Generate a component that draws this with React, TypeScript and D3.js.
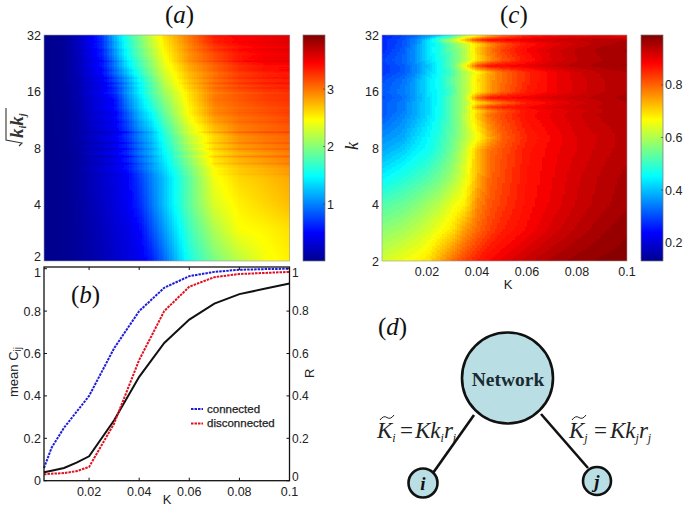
import React, { useEffect, useRef } from "react";
import * as d3 from "d3";

// ---------- data ----------
const gridK = [0.002, 0.01, 0.015, 0.02, 0.025, 0.03, 0.035, 0.04, 0.045, 0.05, 0.06, 0.07, 0.08, 0.09, 0.1];

const rowsA = [32, 23.5, 18.9, 14.4, 12, 9.4, 6.9, 5.5, 4, 2.93, 2];
const valuesA = [
  [0, 0.05, 0.2, 0.42, 0.7, 1.2, 1.63, 1.97, 2.3, 2.6, 3.0, 3.38, 3.47, 3.52, 3.58],
  [0, 0.05, 0.18, 0.38, 0.58, 1.0, 1.46, 1.8, 2.1, 2.42, 2.87, 3.12, 3.35, 3.47, 3.5],
  [0, 0.05, 0.15, 0.33, 0.47, 0.8, 1.15, 1.55, 1.9, 2.25, 2.7, 3.0, 3.2, 3.3, 3.35],
  [0, 0.04, 0.12, 0.28, 0.4, 0.55, 1.0, 1.35, 1.7, 2.0, 2.55, 2.98, 3.1, 3.2, 3.25],
  [0, 0.03, 0.1, 0.25, 0.36, 0.47, 0.82, 1.2, 1.48, 1.85, 2.48, 2.9, 3.05, 3.12, 3.2],
  [0, 0.03, 0.1, 0.22, 0.32, 0.43, 0.68, 1.0, 1.25, 1.62, 2.25, 2.65, 2.92, 3.02, 3.08],
  [0, 0.02, 0.08, 0.2, 0.3, 0.42, 0.6, 0.9, 1.15, 1.42, 2.0, 2.55, 2.75, 2.85, 2.95],
  [0, 0.02, 0.08, 0.17, 0.27, 0.36, 0.47, 0.72, 1.0, 1.25, 1.85, 2.42, 2.62, 2.7, 2.8],
  [0, 0.02, 0.07, 0.15, 0.24, 0.34, 0.45, 0.65, 0.95, 1.25, 1.85, 2.33, 2.52, 2.62, 2.72],
  [0, 0.02, 0.06, 0.13, 0.2, 0.3, 0.38, 0.5, 0.8, 1.1, 1.72, 2.15, 2.45, 2.5, 2.58],
  [0, 0.02, 0.06, 0.11, 0.18, 0.26, 0.34, 0.42, 0.6, 0.9, 1.57, 1.95, 2.2, 2.42, 2.52],
];
const streakK = [29.3, 27.6, 26.6, 25.3, 24.1, 23.2, 21.9, 20.8, 20, 18.9, 17.7, 16.7, 15.7, 14.4, 13.1, 12.3, 11.6, 11, 10.5, 9.7, 9.2, 8.5, 7.9, 7.5, 7.2, 6.6, 6.2, 5.8];
const streakD = [0.05, -0.05, 0.06, -0.04, 0.03, 0.13, -0.05, 0.05, -0.06, 0.11, 0.14, 0.1, -0.08, 0.04, -0.06, 0.05, -0.05, 0.06, -0.03, 0.2, -0.04, 0.15, 0.16, -0.06, 0.16, 0.13, -0.05, 0.05];
const streakShapeK = [0.012, 0.028, 0.045, 0.055, 0.07, 0.1];
const streakShapeV = [0, -1, -0.6, 0.4, 0.8, 0.7];

const rowsC = [32, 31.6, 30.1, 28.7, 26.6, 23.5, 21.9, 20.3, 18.4, 15.9, 14.8, 13.9, 13.2, 12.6, 12, 9.05, 7.8, 5.5, 4, 2.93, 2];
const valuesC = [
  [0.26, 0.29, 0.32, 0.36, 0.4, 0.47, 0.6, 0.68, 0.76, 0.8, 0.85, 0.87, 0.88, 0.89, 0.88],
  [0.26, 0.29, 0.32, 0.37, 0.42, 0.5, 0.62, 0.68, 0.74, 0.8, 0.86, 0.89, 0.9, 0.91, 0.9],
  [0.27, 0.3, 0.35, 0.42, 0.53, 0.62, 0.73, 0.84, 0.885, 0.89, 0.91, 0.925, 0.935, 0.945, 0.95],
  [0.27, 0.3, 0.35, 0.42, 0.48, 0.55, 0.62, 0.69, 0.76, 0.81, 0.87, 0.9, 0.925, 0.945, 0.955],
  [0.27, 0.31, 0.36, 0.43, 0.48, 0.54, 0.6, 0.71, 0.78, 0.83, 0.885, 0.915, 0.94, 0.955, 0.965],
  [0.29, 0.32, 0.36, 0.42, 0.47, 0.53, 0.6, 0.69, 0.76, 0.81, 0.87, 0.91, 0.935, 0.95, 0.96],
  [0.28, 0.31, 0.35, 0.4, 0.46, 0.53, 0.66, 0.82, 0.875, 0.885, 0.9, 0.925, 0.945, 0.955, 0.965],
  [0.28, 0.31, 0.35, 0.41, 0.46, 0.52, 0.6, 0.67, 0.74, 0.79, 0.85, 0.89, 0.92, 0.94, 0.95],
  [0.3, 0.33, 0.37, 0.43, 0.47, 0.53, 0.6, 0.69, 0.75, 0.79, 0.85, 0.89, 0.915, 0.935, 0.95],
  [0.31, 0.34, 0.37, 0.43, 0.46, 0.52, 0.6, 0.68, 0.75, 0.8, 0.86, 0.89, 0.915, 0.935, 0.95],
  [0.3, 0.33, 0.37, 0.42, 0.46, 0.53, 0.6, 0.79, 0.87, 0.88, 0.895, 0.915, 0.93, 0.945, 0.955],
  [0.31, 0.34, 0.38, 0.42, 0.46, 0.53, 0.6, 0.68, 0.74, 0.79, 0.86, 0.89, 0.915, 0.935, 0.95],
  [0.31, 0.34, 0.38, 0.42, 0.47, 0.53, 0.6, 0.76, 0.84, 0.86, 0.885, 0.91, 0.925, 0.94, 0.95],
  [0.31, 0.34, 0.38, 0.42, 0.47, 0.53, 0.6, 0.69, 0.76, 0.81, 0.87, 0.895, 0.915, 0.935, 0.95],
  [0.31, 0.35, 0.38, 0.42, 0.47, 0.53, 0.61, 0.71, 0.79, 0.825, 0.875, 0.9, 0.92, 0.94, 0.95],
  [0.36, 0.38, 0.42, 0.45, 0.49, 0.54, 0.6, 0.66, 0.74, 0.8, 0.855, 0.885, 0.91, 0.925, 0.945],
  [0.38, 0.41, 0.44, 0.46, 0.5, 0.55, 0.62, 0.72, 0.785, 0.815, 0.865, 0.89, 0.91, 0.93, 0.945],
  [0.45, 0.48, 0.5, 0.52, 0.55, 0.59, 0.645, 0.73, 0.795, 0.825, 0.87, 0.895, 0.92, 0.94, 0.955],
  [0.52, 0.54, 0.56, 0.585, 0.61, 0.65, 0.68, 0.765, 0.81, 0.835, 0.875, 0.9, 0.925, 0.945, 0.96],
  [0.57, 0.59, 0.61, 0.63, 0.66, 0.69, 0.75, 0.795, 0.83, 0.855, 0.885, 0.915, 0.94, 0.96, 0.975],
  [0.63, 0.655, 0.67, 0.69, 0.74, 0.79, 0.83, 0.86, 0.885, 0.9, 0.93, 0.955, 0.97, 0.98, 0.985],
];

const lineK = [0.002, 0.005, 0.01, 0.015, 0.02, 0.03, 0.04, 0.05, 0.06, 0.07, 0.08, 0.09, 0.1];
const connected = [0.06, 0.155, 0.25, 0.325, 0.4, 0.625, 0.8, 0.91, 0.965, 0.985, 0.995, 0.998, 1.0];
const disconnected = [0.03, 0.033, 0.036, 0.045, 0.065, 0.27, 0.57, 0.8, 0.915, 0.96, 0.975, 0.98, 0.985];
const orderR = [0.04, 0.047, 0.06, 0.085, 0.115, 0.285, 0.49, 0.65, 0.76, 0.835, 0.88, 0.905, 0.93];

const kTicks = [0.02, 0.04, 0.06, 0.08, 0.1];
const degreeTicks = [2, 4, 8, 16, 32];
const fracTicks = [0, 0.2, 0.4, 0.6, 0.8, 1];
const barTicksA = [1, 2, 3];
const barTicksC = [0.2, 0.4, 0.6, 0.8];
const domainK: [number, number] = [0.002, 0.1];
const domainA: [number, number] = [0.01, 3.94];
const domainC: [number, number] = [0.13, 0.99];

// ---------- helpers ----------
const SANS = "'Liberation Sans', Arial, sans-serif";
const SERIF = "'Liberation Serif', 'Times New Roman', serif";
const TXT = "#222";

const jetColor = d3
  .scaleLinear<string>()
  .domain([0, 1 / 8, 3 / 8, 5 / 8, 7 / 8, 1])
  .range(["#00008f", "#0000ff", "#00ffff", "#ffff00", "#ff0000", "#800000"])
  .clamp(true);

function sampler(rows: number[], matrix: number[][]) {
  const logs = rows.map((r) => Math.log2(r));
  return (K: number, k: number) => {
    const lk = Math.log2(k);
    let r = 0;
    while (r < logs.length - 2 && lk < logs[r + 1]) r++;
    const t = Math.max(0, Math.min(1, (logs[r] - lk) / (logs[r] - logs[r + 1])));
    let c = d3.bisectRight(gridK, K) - 1;
    c = Math.max(0, Math.min(gridK.length - 2, c));
    const u = (K - gridK[c]) / (gridK[c + 1] - gridK[c]);
    const a = matrix[r][c] * (1 - u) + matrix[r][c + 1] * u;
    const b = matrix[r + 1][c] * (1 - u) + matrix[r + 1][c + 1] * u;
    return a * (1 - t) + b * t;
  };
}

function drawHeat(
  g: d3.Selection<SVGGElement, unknown, null, undefined>,
  x: d3.ScaleLinear<number, number>,
  y: d3.ScaleLogarithmic<number, number>,
  domain: [number, number],
  value: (K: number, k: number) => number,
  levels: number,
) {
  const [x0, x1] = x.range();
  const [y1, y0] = y.range();
  const cols = d3.range(x0, x1, 2.5);
  const rows = d3.range(y0, y1, 1);
  const cells: { px: number; py: number; c: string }[] = [];
  const norm = d3.scaleLinear().domain(domain).range([0, 1]).clamp(true);
  for (const py of rows) {
    const k = y.invert(py + 0.5);
    for (const px of cols) {
      let t = norm(value(x.invert(px + 1.25), k));
      if (levels) t = (Math.floor(t * levels) + 0.5) / levels;
      cells.push({ px, py, c: jetColor(t) });
    }
  }
  g.selectAll("rect")
    .data(cells)
    .join("rect")
    .attr("x", (d) => d.px)
    .attr("y", (d) => d.py)
    .attr("width", (d) => Math.min(3, x1 - d.px))
    .attr("height", (d) => Math.min(1.2, y1 - d.py))
    .attr("fill", (d) => d.c)
    .attr("shape-rendering", "crispEdges");
}

function drawBar(
  g: d3.Selection<SVGGElement, unknown, null, undefined>,
  x: number,
  w: number,
  s: d3.ScaleLinear<number, number>,
) {
  const [y1, y0] = s.range();
  const norm = d3.scaleLinear().domain(s.domain()).range([0, 1]);
  g.selectAll("rect")
    .data(d3.range(y0, y1, 1))
    .join("rect")
    .attr("x", x)
    .attr("y", (d) => d)
    .attr("width", w)
    .attr("height", 1.2)
    .attr("fill", (d) => jetColor(norm(s.invert(d + 0.5))))
    .attr("shape-rendering", "crispEdges");
}

// ---------- layout ----------
const A = { l: 44, r: 289.5, t: 35, b: 261 };
const C = { l: 382, r: 627, t: 35, b: 261 };
const B = { l: 44, r: 289.5, t: 267, b: 480.7 };
const barA = { x: 303, w: 22 };
const barC = { x: 641, w: 22 };

const xA = d3.scaleLinear().domain(domainK).range([A.l, A.r]);
const xC = d3.scaleLinear().domain(domainK).range([C.l, C.r]);
const xB = d3.scaleLinear().domain(domainK).range([B.l, B.r]);
const yA = d3.scaleLog().base(2).domain([2, 32]).range([A.b, A.t]);
const yC = d3.scaleLog().base(2).domain([2, 32]).range([C.b, C.t]);
const yB = d3.scaleLinear().domain([0, 1.008]).range([B.b, B.t]);
const sA = d3.scaleLinear().domain(domainA).range([A.b, A.t]);
const sC = d3.scaleLinear().domain(domainC).range([C.b, C.t]);

const lineGen = (vals: number[]) =>
  d3
    .line<number>()
    .x((_, i) => xB(lineK[i]))
    .y((d) => yB(d))(vals) as string;

function Title({ x, y, l }: { x: number; y: number; l: string }) {
  return (
    <text x={x} y={y} fontFamily={SERIF} fontSize={25} fill="#111">
      (<tspan fontStyle="italic">{l}</tspan>)
    </text>
  );
}

function Tick({ x, y, t, anchor = "end", size = 12.5 }: { x: number; y: number; t: string | number; anchor?: string; size?: number }) {
  return (
    <text x={x} y={y} dy="0.36em" textAnchor={anchor as any} fontFamily={SANS} fontSize={size} fill={TXT}>
      {t}
    </text>
  );
}

function Formula({ x, y, a, gap, kx }: { x: number; y: number; a: string; gap: number; kx: number }) {
  const sub = { fontSize: 12 };
  return (
    <g fontFamily={SERIF} fontStyle="italic" fontSize={23} fill="#222">
      <path d={`M${x + 3},${y - 18} q3.5,-5 7,-2.5 t7,-2.5`} fill="none" stroke="#222" strokeWidth={1} />
      <text x={x} y={y}>
        K
        <tspan {...sub} dy={4}>{a}</tspan>
      </text>
      <text x={x + gap} y={y} fontStyle="normal">=</text>
      <text x={x + kx} y={y}>
        Kk
        <tspan {...sub} dy={4}>{a}</tspan>
        <tspan dy={-4}>r</tspan>
        <tspan {...sub} dy={4}>{a}</tspan>
      </text>
    </g>
  );
}

export default function App() {
  const heatA = useRef<SVGGElement>(null);
  const heatC = useRef<SVGGElement>(null);
  const cbA = useRef<SVGGElement>(null);
  const cbC = useRef<SVGGElement>(null);

  useEffect(() => {
    const baseA = sampler(rowsA, valuesA);
    const shape = d3.scaleLinear().domain(streakShapeK).range(streakShapeV).clamp(true);
    const valueA = (K: number, k: number) => {
      let v = baseA(K, k);
      const py = yA(k);
      streakK.forEach((s, i) => {
        const w = Math.abs(yA(s) - py);
        if (w < 1.5) v += streakD[i] * (1 - w / 1.5) * shape(K);
      });
      return v;
    };
    drawHeat(d3.select(heatA.current!), xA, yA, domainA, valueA, 0);
    drawHeat(d3.select(heatC.current!), xC, yC, domainC, sampler(rowsC, valuesC), 64);
    drawBar(d3.select(cbA.current!), barA.x, barA.w, sA);
    drawBar(d3.select(cbC.current!), barC.x, barC.w, sC);
  }, []);

  return (
    <svg width={685} height={508} style={{ position: "absolute", left: 0, top: 0, background: "#fff" }}>
      <defs>
        <filter id="soft" x="-2%" y="-2%" width="104%" height="104%">
          <feGaussianBlur stdDeviation="0.6" />
        </filter>
      </defs>

      {/* Panel a */}
      <Title x={165} y={23} l="a" />
      <g ref={heatA} filter="url(#soft)" />
      <rect x={A.l} y={A.t} width={A.r - A.l} height={A.b - A.t} fill="none" stroke="#999" strokeWidth={0.6} />
      <g ref={cbA} />
      <rect x={barA.x} y={A.t} width={barA.w} height={A.b - A.t} fill="none" stroke="#777" strokeWidth={0.7} />
      {degreeTicks.map((d) => (
        <Tick key={d} x={41} y={yA(d) + (d === 2 ? -4.5 : 0)} t={d} />
      ))}
      {barTicksA.map((d) => (
        <g key={d}>
          <line x1={barA.x + barA.w - 2} x2={barA.x + barA.w} y1={sA(d)} y2={sA(d)} stroke="#333" strokeWidth={0.6} />
          <Tick x={327} y={sA(d)} t={d} anchor="start" />
        </g>
      ))}
      <g transform="translate(23,145) rotate(-90)" fill="#333">
        <path d="M-1,-4 L2,-1 L5,-17 L37,-17" fill="none" stroke="#333" strokeWidth={1.1} />
        <text x={7} y={0} fontFamily={SERIF} fontStyle="italic" fontWeight="bold" fontSize={19}>
          k<tspan fontSize={10} dy={3}>i</tspan>
          <tspan dy={-3}>k</tspan>
          <tspan fontSize={10} dy={3}>j</tspan>
        </text>
      </g>

      {/* Panel c */}
      <Title x={500} y={23} l="c" />
      <g ref={heatC} filter="url(#soft)" />
      <rect x={C.l} y={C.t} width={C.r - C.l} height={C.b - C.t} fill="none" stroke="#999" strokeWidth={0.6} />
      <g ref={cbC} />
      <rect x={barC.x} y={C.t} width={barC.w} height={C.b - C.t} fill="none" stroke="#777" strokeWidth={0.7} />
      {degreeTicks.map((d) => (
        <Tick key={d} x={379} y={yC(d)} t={d} />
      ))}
      {kTicks.map((d) => (
        <Tick key={d} x={xC(d)} y={271.5} t={d} anchor="middle" />
      ))}
      {barTicksC.map((d) => (
        <g key={d}>
          <line x1={barC.x + barC.w - 2} x2={barC.x + barC.w} y1={sC(d)} y2={sC(d)} stroke="#333" strokeWidth={0.6} />
          <Tick x={665} y={sC(d)} t={d} anchor="start" />
        </g>
      ))}
      <text x={508} y={289} textAnchor="middle" fontFamily={SANS} fontSize={13} fill={TXT}>K</text>
      <text transform="translate(358,150) rotate(-90)" fontFamily={SERIF} fontStyle="italic" fontSize={18} fill="#222">k</text>

      {/* Panel b */}
      <path d={lineGen(orderR)} fill="none" stroke="#111" strokeWidth={2} />
      <path d={lineGen(connected)} fill="none" stroke="#1d1dd8" strokeWidth={2} strokeDasharray="2.5 1" />
      <path d={lineGen(disconnected)} fill="none" stroke="#e01020" strokeWidth={2} strokeDasharray="2.5 1" />
      <rect x={B.l} y={B.t} width={B.r - B.l} height={B.b - B.t} fill="none" stroke="#111" strokeWidth={1.3} />
      {kTicks.map((d) => (
        <g key={d}>
          <line x1={xB(d)} x2={xB(d)} y1={B.b} y2={B.b - 3} stroke="#111" />
          <line x1={xB(d)} x2={xB(d)} y1={B.t} y2={B.t + 3} stroke="#111" />
          <Tick x={xB(d)} y={491} t={d} anchor="middle" />
        </g>
      ))}
      {fracTicks.map((d) => (
        <g key={d}>
          <line x1={B.l} x2={B.l + 3} y1={yB(d)} y2={yB(d)} stroke="#111" />
          <line x1={B.r} x2={B.r - 3} y1={yB(d)} y2={yB(d)} stroke="#111" />
          <Tick x={41} y={yB(d) + (d === 1 ? 3.5 : 0)} t={d} />
          <Tick x={292} y={yB(d) + (d === 1 ? 3.5 : d === 0 ? -4.5 : 0)} t={d} anchor="start" size={12} />
        </g>
      ))}
      <Title x={71} y={303} l="b" />
      <text x={167} y={504} textAnchor="middle" fontFamily={SANS} fontSize={13} fill={TXT}>K</text>
      <text transform="translate(18,397) rotate(-90)" fontFamily={SANS} fontSize={13} fill={TXT}>
        mean C<tspan fontSize={10} dy={3}>ij</tspan>
      </text>
      <text transform="translate(314,378) rotate(-90)" fontFamily={SANS} fontSize={13} fill={TXT}>R</text>
      <line x1={191} x2={203} y1={409} y2={409} stroke="#1d1dd8" strokeWidth={2} strokeDasharray="2.5 1" />
      <line x1={191} x2={203} y1={423.5} y2={423.5} stroke="#e01020" strokeWidth={2} strokeDasharray="2.5 1" />
      <text x={207} y={412.5} fontFamily={SANS} fontSize={11.5} fill="#222" stroke="#222" strokeWidth={0.25}>connected</text>
      <text x={207} y={427} fontFamily={SANS} fontSize={11.5} fill="#222" stroke="#222" strokeWidth={0.25}>disconnected</text>

      {/* Panel d */}
      <Title x={378} y={335} l="d" />
      <line x1={474} y1={415} x2={433} y2={473} stroke="#111" strokeWidth={2.6} />
      <line x1={541} y1={414} x2={588} y2={468} stroke="#111" strokeWidth={2.6} />
      <circle cx={507.5} cy={378} r={45.5} fill="#b9dfe5" stroke="#111" strokeWidth={2.6} />
      <circle cx={423} cy={483} r={14.5} fill="#b9dfe5" stroke="#111" strokeWidth={2.6} />
      <circle cx={597} cy={481} r={14} fill="#b9dfe5" stroke="#111" strokeWidth={2.6} />
      <text x={508} y={386} textAnchor="middle" fontFamily={SERIF} fontWeight="bold" fontSize={19.5} fill="#1a2a30">Network</text>
      <text x={423} y={490} textAnchor="middle" fontFamily={SERIF} fontStyle="italic" fontWeight="bold" fontSize={19} fill="#111">i</text>
      <text x={597} y={488} textAnchor="middle" fontFamily={SERIF} fontStyle="italic" fontWeight="bold" fontSize={19} fill="#111">j</text>
      <Formula x={377} y={438} a="i" gap={23} kx={38} />
      <Formula x={569} y={438} a="j" gap={25} kx={41} />
    </svg>
  );
}
